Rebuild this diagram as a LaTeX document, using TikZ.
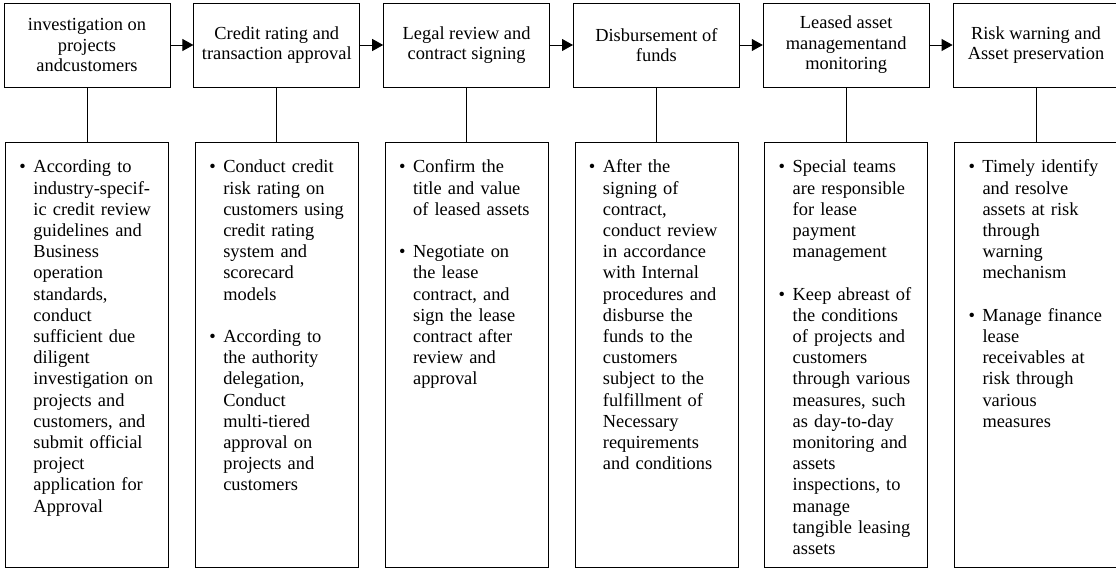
\documentclass[tikz,border=0pt]{standalone}
\usepackage{fontspec}
\setmainfont{Liberation Serif}
\usetikzlibrary{positioning,arrows.meta}
\newcommand{\bul}{\makebox[14pt][l]{\textbullet}}
\newcommand{\cont}{\hspace*{14pt}}
\begin{document}
\begin{tikzpicture}[x=1pt,y=1pt]
\tikzset{stage/.style={draw, line width=0.8pt, minimum width=166pt, minimum height=84pt, inner sep=0pt, align=center, font=\fontsize{18.4pt}{20.5pt}\selectfont, execute at begin node={\rule{0pt}{19pt}}}}
\tikzset{detail/.style={draw, line width=0.8pt, text width=135pt, inner xsep=14pt, inner ysep=0pt, text height=30pt, text depth=395pt, align=left, font=\fontsize{18.4pt}{21.2pt}\selectfont}}
\tikzset{flow/.style={line width=0.8pt, -{Triangle[length=11pt,width=12pt]}}}
\tikzset{link/.style={line width=0.8pt}}
\useasboundingbox (-87,45) rectangle (1029,-523);
\node[stage] (s1) at (0,0) {investigation on\\projects\\andcustomers};
\node[stage, right=23pt of s1] (s2) {Credit rating and\\transaction approval};
\node[stage, right=23pt of s2] (s3) {Legal review and\\contract signing};
\node[stage, right=23pt of s3] (s4) {Disbursement of\\funds};
\node[stage, right=23pt of s4] (s5) {Leased asset\\managementand\\monitoring};
\node[stage, right=23pt of s5] (s6) {Risk warning and\\Asset preservation};
\node[detail, below=55pt of s1] (d1) {\bul According to\\
\cont industry-specif-\\
\cont ic credit review\\
\cont guidelines and\\
\cont Business\\
\cont operation\\
\cont standards,\\
\cont conduct\\
\cont sufficient due\\
\cont diligent\\
\cont investigation on\\
\cont projects and\\
\cont customers, and\\
\cont submit official\\
\cont project\\
\cont application for\\
\cont Approval};
\node[detail, below=55pt of s2] (d2) {\bul Conduct credit\\
\cont risk rating on\\
\cont customers using\\
\cont credit rating\\
\cont system and\\
\cont scorecard\\
\cont models\\[21.2pt]
\bul According to\\
\cont the authority\\
\cont delegation,\\
\cont Conduct\\
\cont multi-tiered\\
\cont approval on\\
\cont projects and\\
\cont customers};
\node[detail, below=55pt of s3] (d3) {\bul Confirm the\\
\cont title and value\\
\cont of leased assets\\[21.2pt]
\bul Negotiate on\\
\cont the lease\\
\cont contract, and\\
\cont sign the lease\\
\cont contract after\\
\cont review and\\
\cont approval};
\node[detail, below=55pt of s4] (d4) {\bul After the\\
\cont signing of\\
\cont contract,\\
\cont conduct review\\
\cont in accordance\\
\cont with Internal\\
\cont procedures and\\
\cont disburse the\\
\cont funds to the\\
\cont customers\\
\cont subject to the\\
\cont fulfillment of\\
\cont Necessary\\
\cont requirements\\
\cont and conditions};
\node[detail, below=55pt of s5] (d5) {\bul Special teams\\
\cont are responsible\\
\cont for lease\\
\cont payment\\
\cont management\\[21.2pt]
\bul Keep abreast of\\
\cont the conditions\\
\cont of projects and\\
\cont customers\\
\cont through various\\
\cont measures, such\\
\cont as day-to-day\\
\cont monitoring and\\
\cont assets\\
\cont inspections, to\\
\cont manage\\
\cont tangible leasing\\
\cont assets};
\node[detail, below=55pt of s6] (d6) {\bul Timely identify\\
\cont and resolve\\
\cont assets at risk\\
\cont through\\
\cont warning\\
\cont mechanism\\[21.2pt]
\bul Manage finance\\
\cont lease\\
\cont receivables at\\
\cont risk through\\
\cont various\\
\cont measures};
\draw[flow] (s1) -- (s2);
\draw[flow] (s2) -- (s3);
\draw[flow] (s3) -- (s4);
\draw[flow] (s4) -- (s5);
\draw[flow] (s5) -- (s6);
\draw[link] (s1) -- (d1);
\draw[link] (s2) -- (d2);
\draw[link] (s3) -- (d3);
\draw[link] (s4) -- (d4);
\draw[link] (s5) -- (d5);
\draw[link] (s6) -- (d6);
\end{tikzpicture}
\end{document}
